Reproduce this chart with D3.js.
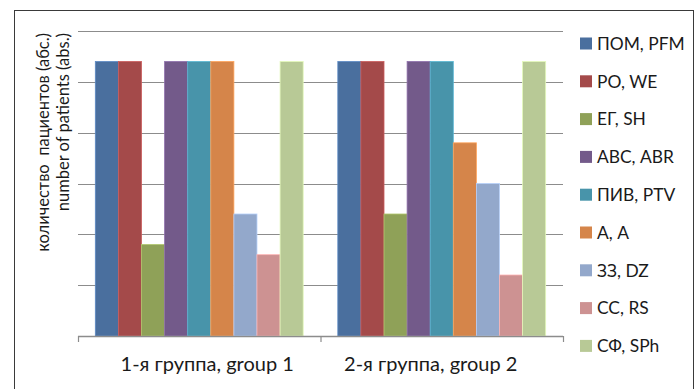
<!DOCTYPE html>
<html><head><meta charset="utf-8">
<script src="https://cdn.jsdelivr.net/npm/d3@7/dist/d3.min.js"></script>
<style>body{margin:0;background:#fff}svg{display:block}</style>
</head><body><svg id="c" width="700" height="389"></svg>
<script>
const groups = ["1-я группа, group 1", "2-я группа, group 2"];
const series = ["ПОМ, PFM", "РО, WE", "ЕГ, SH", "АВС, ABR", "ПИВ, PTV", "А, A", "ЗЗ, DZ", "СС, RS", "СФ, SPh"];
const group1 = [27, 27, 9, 27, 27, 27, 12, 8, 27];
const group2 = [27, 27, 12, 27, 27, 19, 15, 6, 27];
const colors = ["#4A6F9E", "#A44A4A", "#8FA158", "#735A8A", "#4894AA", "#D5854A", "#93A8CB", "#CD9292", "#B8C996"];
const yTicks = [0, 5, 10, 15, 20, 25, 30];
const yTitle = ["количество  пациентов (абс.)", "number of patients (abs.)"];

const values = [group1, group2];
const svg = d3.select("#c");
const font = "Lato, 'Open Sans', sans-serif";

svg.append("rect").attr("x", 14.5).attr("y", 10.5).attr("width", 679).attr("height", 390)
  .attr("fill", "none").attr("stroke", "#3a3a3a").attr("stroke-width", 1);

const pL = 78, pR = 563, pT = 31, pB = 336;
const y = d3.scaleLinear().domain([0, 30]).range([pB, pT]);
const x0 = d3.scaleBand().domain(groups).range([pL, pR]);
const x1 = d3.scaleBand().domain(series).range([0, x0.bandwidth()]).paddingInner(0).paddingOuter(0.75);

svg.append("g").selectAll("line").data(yTicks.filter(t => t > 0)).join("line")
  .attr("x1", pL).attr("x2", pR)
  .attr("y1", d => Math.round(y(d)) + 0.5).attr("y2", d => Math.round(y(d)) + 0.5)
  .attr("stroke", "#8c8c8c").attr("stroke-width", 1.2);

const g = svg.append("g").selectAll("g").data(groups).join("g")
  .attr("transform", d => `translate(${x0(d)},0)`);
g.selectAll("rect").data((d, i) => values[i].map((v, j) => ({ v, j })))
  .join("rect")
  .attr("x", d => x1(series[d.j]))
  .attr("width", x1.bandwidth())
  .attr("y", d => y(d.v))
  .attr("height", d => pB - y(d.v))
  .attr("fill", d => colors[d.j])
  .attr("stroke", d => d3.color(colors[d.j]).brighter(0.6))
  .attr("stroke-width", 0.8);

const labelShift = [8, -11];
const xa = d3.axisBottom(x0).tickSize(0).tickFormat(d => d);
const axg = svg.append("g").attr("transform", `translate(0,${pB})`).call(xa);
axg.select(".domain").remove();
axg.selectAll("text").attr("font-family", font).attr("font-size", 20).attr("fill", "#1a1a1a")
  .attr("y", 35).attr("dy", 0).attr("dx", (d, i) => labelShift[i]);
svg.append("line").attr("x1", pL).attr("x2", pR).attr("y1", pB + 0.5).attr("y2", pB + 0.5)
  .attr("stroke", "#8c8c8c").attr("stroke-width", 1.3);
const bounds = [pL, x0(groups[1]), pR];
svg.append("g").selectAll("line").data(bounds).join("line")
  .attr("x1", d => d + 0.5).attr("x2", d => d + 0.5).attr("y1", pB).attr("y2", pB + 6)
  .attr("stroke", "#8c8c8c").attr("stroke-width", 1.2);

const yt = svg.append("g");
yTitle.forEach((t, i) => {
  yt.append("text").attr("transform", `translate(${49 + i * 20},33) rotate(-90)`)
    .attr("text-anchor", "end").attr("font-family", font).attr("font-size", 16.5)
    .attr("fill", "#1a1a1a").style("white-space", "pre").text(t);
});

const lg = svg.append("g").selectAll("g").data(series).join("g")
  .attr("transform", (d, i) => `translate(580,${43.5 + i * 37.8})`);
lg.append("rect").attr("x", 0).attr("y", -6).attr("width", 12).attr("height", 12).attr("fill", (d, i) => colors[i]);
lg.append("text").attr("x", 17).attr("y", 0).attr("dy", "0.36em").attr("font-family", font)
  .attr("font-size", 17.4).attr("fill", "#1a1a1a").text(d => d);
</script></body></html>
